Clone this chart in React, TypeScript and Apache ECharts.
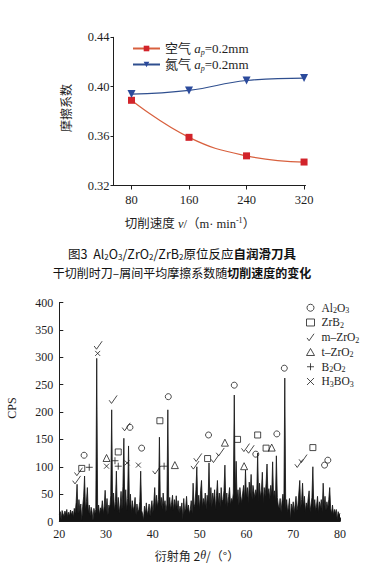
import React, { useEffect, useRef } from 'react';
import * as echarts from 'echarts';

// ---- Top chart data ----
const speeds = [80, 160, 240, 320];
const airFriction = [0.389, 0.359, 0.344, 0.339];
const nitrogenFriction = [0.394, 0.397, 0.405, 0.407];
const frictionSeriesNames = ['空气', '氮气'];

// ---- XRD data (2θ from 20 to 80, step 0.2) ----
const xrdStart = 20;
const xrdStep = 0.2;
const xrdCps = [
  12, 18, 3, 20, 14,
  9, 19, 13, 22, 8,
  17, 10, 21, 12, 19,
  8, 24, 15, 35, 68,
  14, 40, 18, 32, 2,
  28, 45, 83, 22, 36,
  62, 15, 30, 10, 26,
  18, 2, 24, 14, 22,
  298, 16, 30, 12, 25,
  20, 38, 14, 28, 57,
  18, 42, 12, 30, 24,
  48, 204, 26, 52, 20,
  36, 92, 18, 44, 15,
  30, 55, 22, 64, 152,
  26, 58, 20, 42, 138,
  24, 50, 16, 38, 20,
  28, 44, 12, 32, 18,
  22, 36, 92, 20, 14,
  2, 28, 14, 34, 12,
  20, 32, 10, 26, 38,
  16, 34, 62, 22, 48,
  26, 40, 154, 30, 44,
  22, 52, 28, 38, 18,
  32, 204, 26, 44, 22,
  34, 48, 20, 40, 24,
  47, 22, 38, 16, 28,
  20, 34, 3, 42, 18,
  24, 46, 20, 30, 14,
  22, 38, 14, 70, 26,
  32, 58, 100, 28, 48,
  22, 56, 75, 26, 42,
  30, 52, 22, 48, 36,
  107, 30, 62, 26, 52,
  36, 58, 22, 48, 75,
  32, 52, 26, 62, 36,
  40, 56, 103, 30, 52,
  26, 46, 62, 30, 42,
  36, 52, 231, 46, 110,
  40, 58, 30, 62, 46,
  34, 52, 66, 40, 94,
  44, 62, 34, 72, 50,
  86, 40, 66, 54, 44,
  58, 48, 125, 38, 70,
  44, 56, 90, 34, 62,
  46, 70, 105, 50, 60,
  40, 66, 48, 109, 44,
  56, 38, 120, 44, 30,
  24, 42, 18, 36, 50,
  30, 262, 24, 40, 18,
  26, 42, 3, 32, 20,
  36, 16, 30, 46, 20,
  30, 52, 75, 24, 40,
  70, 28, 46, 18, 34,
  24, 42, 56, 18, 30,
  44, 100, 24, 40, 20,
  30, 46, 16, 36, 24,
  40, 18, 70, 28, 46,
  20, 36, 24, 40, 62,
  24, 14, 30, 12, 22,
  14, 22, 3, 18, 12,
  15,
];

// Phase markers [2θ, CPS]
const al2o3Marks = [[25.3, 121], [35.1, 172], [37.6, 134], [43.3, 228], [51.9, 158], [57.4, 249], [62.0, 123], [66.5, 160], [68.1, 280], [76.7, 103], [77.4, 112]];
const zrb2Marks = [[24.8, 97], [32.6, 127], [41.5, 184], [51.7, 115], [58.1, 150], [62.4, 158], [64.2, 134], [74.2, 135]];
const mZrO2Marks = [[23.7, 76], [24.1, 91], [28.3, 322], [31.5, 223], [34.3, 173], [40.8, 94], [49.0, 103], [49.6, 117], [53.3, 115], [54.4, 127], [59.8, 135], [60.8, 132], [71.2, 106], [72.1, 115]];
const tZrO2Marks = [[30.1, 116], [44.7, 103], [55.4, 144], [59.5, 101], [65.4, 135]];
const b2o2Marks = [[26.4, 99], [31.9, 111], [32.6, 101], [42.4, 101]];
const h3bo3Marks = [[28.2, 307], [30.1, 101], [34.5, 107], [36.9, 103]];
const phaseNames = ['Al2O3', 'ZrB2', 'm–ZrO2', 't–ZrO2', 'B2O2', 'H3BO3'];
const phaseRich = ['Al{s|2}O{s|3}', 'ZrB{s|2}', 'm–ZrO{s|2}', 't–ZrO{s|2}', 'B{s|2}O{s|2}', 'H{s|3}BO{s|3}'];

const SERIF = "'Liberation Serif', 'Times New Roman', 'Noto Sans CJK SC', serif";
const SANS = "'Noto Sans CJK SC', 'Noto Sans', sans-serif";
const INK = '#1e1e1e';

const CHECK = 'path://M0,6 L3,10 L10,0';
const PLUS = 'path://M5,0 L5,10 M0,5 L10,5';
const CROSS = 'path://M0,0 L10,10 M10,0 L0,10';

export default function App() {
  const ref = useRef<HTMLDivElement>(null);
  useEffect(() => {
    document.body.style.margin = '0';
    const chart = echarts.init(ref.current!, null, { renderer: 'svg' });
    const hollow = { color: 'rgba(0,0,0,0)', borderColor: INK, borderWidth: 1 };
    const phaseData = [al2o3Marks, zrb2Marks, mZrO2Marks, tZrO2Marks, b2o2Marks, h3bo3Marks];
    const phaseSymbols = ['circle', 'rect', CHECK, 'triangle', PLUS, CROSS];
    const phaseSizes: any[] = [6, 6, [8, 8], 7, 7, 5];

    const option: any = {
      animation: false,
      backgroundColor: '#fff',
      grid: [
        { left: 113.5, top: 37.3, width: 192, height: 148.2 },
        { left: 59.3, top: 302.5, width: 280.7, height: 219 },
      ],
      xAxis: [
        {
          type: 'value', gridIndex: 0, min: 55, max: 322,
          axisLine: { lineStyle: { color: INK, width: 1 } },
          axisTick: { show: true, length: 4, customValues: speeds, lineStyle: { color: INK } },
          axisLabel: { customValues: speeds, color: INK, fontFamily: SERIF, fontSize: 12.5, margin: 8 },
          splitLine: { show: false },
        },
        {
          type: 'value', gridIndex: 1, min: 20, max: 80, interval: 10,
          axisLine: { lineStyle: { color: INK, width: 1 } },
          axisTick: { inside: true, length: 4, lineStyle: { color: INK } },
          axisLabel: { color: INK, fontFamily: SERIF, fontSize: 12, margin: 6 },
          splitLine: { show: false },
        },
      ],
      yAxis: [
        {
          type: 'value', gridIndex: 0, min: 0.32, max: 0.44, interval: 0.04,
          axisLine: { show: true, lineStyle: { color: INK, width: 1 } },
          axisTick: { show: true, length: 3, lineStyle: { color: INK } },
          axisLabel: { color: INK, fontFamily: SERIF, fontSize: 12.5, margin: 4, formatter: (v: number) => v.toFixed(2) },
          splitLine: { show: false },
        },
        {
          type: 'value', gridIndex: 1, min: 0, max: 400, interval: 50,
          axisLine: { show: true, lineStyle: { color: INK, width: 1 } },
          axisTick: { show: true, inside: true, length: 4, lineStyle: { color: INK } },
          axisLabel: { color: INK, fontFamily: SERIF, fontSize: 12, margin: 6 },
          splitLine: { show: false },
        },
      ],
      legend: [
        {
          data: frictionSeriesNames,
          orient: 'vertical', left: 127, top: 37, itemWidth: 27, itemHeight: 7, itemGap: 2,
          formatter: (name: string) => `${name} {i|a}{sub|p}{t|=0.2mm}`,
          textStyle: {
            color: INK, fontFamily: SERIF, fontSize: 13,
            rich: {
              i: { fontFamily: SERIF, fontStyle: 'italic', fontSize: 13, color: INK },
              sub: { fontFamily: SERIF, fontStyle: 'italic', fontSize: 8, color: INK, padding: [7, 0, 0, 0] },
              t: { fontFamily: SERIF, fontSize: 13, color: INK },
            },
          },
        },
        {
          data: phaseNames,
          orient: 'vertical', left: 301, top: 297, itemWidth: 8, itemHeight: 7, itemGap: 2,
          itemStyle: { color: 'rgba(0,0,0,0)', borderColor: INK, borderWidth: 1 },
          formatter: (name: string) => phaseRich[phaseNames.indexOf(name)],
          textStyle: {
            color: INK, fontFamily: SERIF, fontSize: 11.5, padding: [0, 0, 0, 2],
            rich: {
              s: { fontFamily: SERIF, fontSize: 8, color: INK, padding: [6, 0, 0, 0] },
            },
          },
        },
      ],
      series: [
        {
          name: frictionSeriesNames[0], type: 'line', xAxisIndex: 0, yAxisIndex: 0,
          data: speeds.map((s, i) => [s, airFriction[i]]),
          smooth: 0.45, symbol: 'rect', symbolSize: 7,
          lineStyle: { color: '#d8603e', width: 1.2 },
          itemStyle: { color: '#d2242b' },
        },
        {
          name: frictionSeriesNames[1], type: 'line', xAxisIndex: 0, yAxisIndex: 0,
          data: speeds.map((s, i) => [s, nitrogenFriction[i]]),
          smooth: 0.45, symbol: 'triangle', symbolRotate: 180, symbolSize: 8,
          lineStyle: { color: '#2f4f8f', width: 1.2 },
          itemStyle: { color: '#2b4a9c' },
        },
        {
          name: 'XRD', type: 'line', xAxisIndex: 1, yAxisIndex: 1,
          data: xrdCps.map((v, i) => [xrdStart + i * xrdStep, v]),
          showSymbol: false, symbol: 'none', silent: true,
          lineStyle: { color: '#141414', width: 0.8 },
          areaStyle: { color: '#141414', opacity: 1 },
          z: 2,
        },
        ...phaseNames.map((name, k) => ({
          name, type: 'scatter', xAxisIndex: 1, yAxisIndex: 1,
          data: phaseData[k], symbol: phaseSymbols[k], symbolSize: phaseSizes[k],
          itemStyle: hollow, z: 5,
        })),
      ],
      graphic: [
        {
          type: 'text', x: 65, y: 108, rotation: Math.PI / 2,
          style: { text: '摩擦系数', font: `12px ${SANS}`, fill: INK, align: 'center', verticalAlign: 'middle' },
        },
        {
          type: 'text', x: 190, y: 224,
          style: {
            text: '切削速度 {i|v}/（m· min{sup|-1}）', font: `12.5px ${SERIF}`, fill: INK, align: 'center', verticalAlign: 'middle',
            rich: {
              i: { fontFamily: SERIF, fontStyle: 'italic', fontSize: 12.5, fill: INK },
              sup: { fontFamily: SERIF, fontSize: 8, fill: INK, padding: [0, 0, 7, 0] },
            },
          },
        },
        {
          type: 'text', x: 182, y: 253,
          style: {
            text: '图3  Al{s|2}O{s|3}/ZrO{s|2}/ZrB{s|2}原位反应{b|自润滑刀具}', font: `12.5px ${SANS}`, fill: '#111', align: 'center', verticalAlign: 'middle',
            rich: {
              s: { fontFamily: SANS, fontSize: 8, fill: '#111', padding: [6, 0, 0, 0] },
              b: { fontFamily: SANS, fontSize: 12.5, fontWeight: 'bold', fill: '#111' },
            },
          },
        },
        {
          type: 'text', x: 182, y: 272,
          style: {
            text: '干切削时刀–屑间平均摩擦系数随{b|切削速度的变化}', font: `12px ${SANS}`, fill: '#111', align: 'center', verticalAlign: 'middle',
            rich: {
              b: { fontFamily: SANS, fontSize: 12, fontWeight: 'bold', fill: '#111' },
            },
          },
        },
        {
          type: 'text', x: 12, y: 408, rotation: Math.PI / 2,
          style: { text: 'CPS', font: `12px ${SERIF}`, fill: INK, align: 'center', verticalAlign: 'middle' },
        },
        {
          type: 'text', x: 197, y: 555,
          style: {
            text: '衍射角 2{i|θ}/（°）', font: `12px ${SANS}`, fill: INK, align: 'center', verticalAlign: 'middle',
            rich: { i: { fontFamily: SERIF, fontStyle: 'italic', fontSize: 12, fill: INK } },
          },
        },
      ],
    };
    chart.setOption(option);
    return () => chart.dispose();
  }, []);
  return <div ref={ref} style={{ position: 'fixed', left: 0, top: 0, width: 388, height: 566, background: '#fff' }} />;
}
